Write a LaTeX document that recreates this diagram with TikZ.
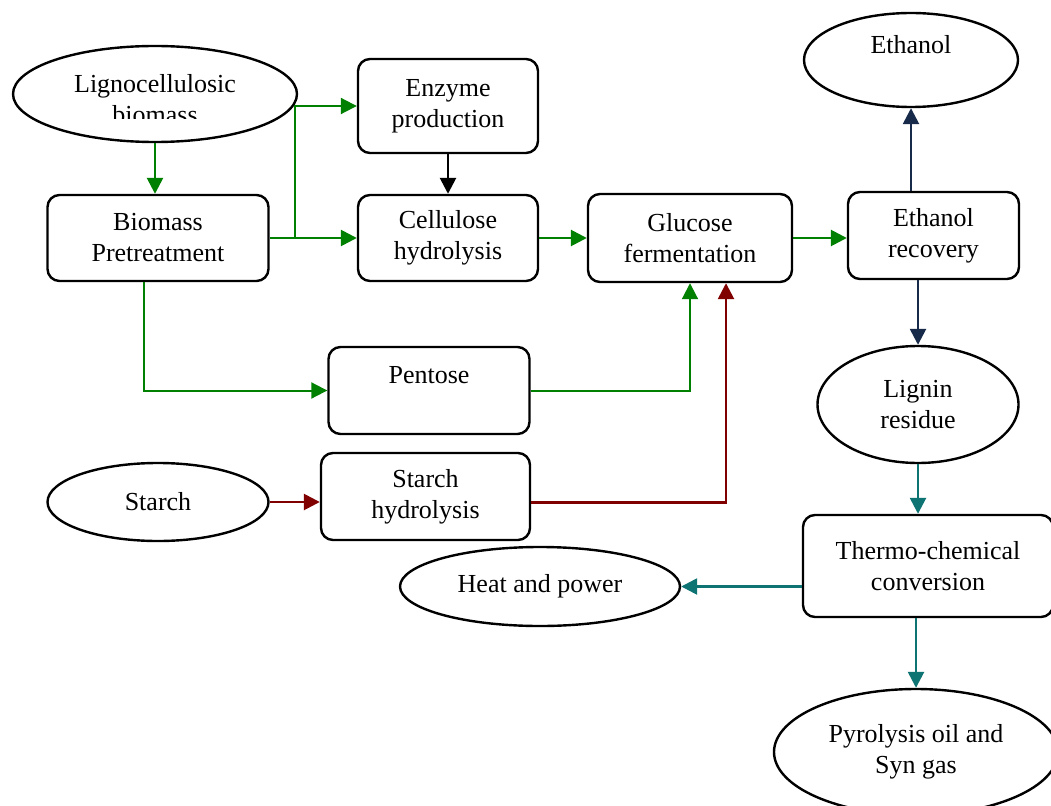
\documentclass[tikz,border=0pt]{standalone}
\usepackage{fontspec}
\setmainfont{Liberation Serif}
\usetikzlibrary{shapes.geometric,arrows.meta}

\definecolor{flowgreen}{HTML}{008000}
\definecolor{flowred}{HTML}{800000}
\definecolor{flownavy}{HTML}{172A4A}
\definecolor{flowteal}{HTML}{0E7373}

\tikzset{
  label font/.style={font=\fontsize{26pt}{31pt}\selectfont},
  process/.style={draw, rounded corners=12pt, line width=2.4pt, align=center, inner sep=0pt, label font},
  product/.style={draw, ellipse, line width=2.4pt, align=center, inner sep=0pt, label font},
  flow/.style={line width=2.6pt, -{Triangle[length=16pt,width=16pt]}},
  thinflow/.style={flow, line width=2pt},
}

\begin{document}
\begin{tikzpicture}[x=1pt, y=-1pt]
  \useasboundingbox (0,0) rectangle (1051,805);

  % Feedstocks and products
  \node[product, minimum width=284pt, minimum height=96pt] (ligno) at (155,94) {};
  \begin{scope}
    % second line is cut off by the text frame
    \clip (0,40) rectangle (300,119);
    \node[align=center, label font] (lignotext) at (155,99) {Lignocellulosic\\biomass};
  \end{scope}
  \node[product, minimum width=214pt, minimum height=94pt] (ethanol) at (911,60) {Ethanol\\\mbox{}};
  \node[product, minimum width=221pt, minimum height=78pt] (starch) at (158,502) {Starch};
  \node[product, minimum width=201pt, minimum height=117pt] (lignin) at (918,404.5) {Lignin\\residue};
  \node[product, minimum width=280pt, minimum height=79pt] (heat) at (540,586.5) {Heat and power};
  \node[product, minimum width=284pt, minimum height=126pt] (pyro) at (916,752) {Pyrolysis oil and\\Syn gas};

  % Process steps
  \node[process, minimum width=221pt, minimum height=86pt] (pretreat) at (158,238) {Biomass\\Pretreatment};
  \node[process, minimum width=180pt, minimum height=94pt] (enzyme) at (448,106) {Enzyme\\production};
  \node[process, minimum width=180pt, minimum height=86pt] (cellulose) at (448,238) {Cellulose\\hydrolysis};
  \node[process, minimum width=204pt, minimum height=88pt] (glucose) at (690,238) {Glucose\\fermentation};
  \node[process, minimum width=171pt, minimum height=87pt] (recovery) at (933.5,235.5) {Ethanol\\recovery};
  \node[process, minimum width=201pt, minimum height=87pt] (pentose) at (429,390.5) {Pentose\\\mbox{}};
  \node[process, minimum width=209pt, minimum height=87pt] (starchhyd) at (425.5,496.5) {Starch\\hydrolysis};
  \node[process, minimum width=250pt, minimum height=102pt] (thermo) at (928,566) {Thermo-chemical\\conversion};

  % Sugar route
  \coordinate (split) at (295,238);
  \draw[flow, flowgreen] (ligno.south) -- (ligno.south |- pretreat.north);
  \draw[flow, flowgreen] (pretreat.east) -- (cellulose.west);
  \draw[thinflow, flowgreen] (split) |- (enzyme.west);
  \draw[flow] (enzyme) -- (cellulose);
  \draw[flow, flowgreen] (cellulose) -- (glucose);
  \draw[flow, flowgreen] (glucose.east) -- (glucose.east -| recovery.west);
  \draw[thinflow, flowgreen] ([xshift=-14pt]pretreat.south) |- (pentose.west);
  \draw[thinflow, flowgreen] (pentose.east) -| (glucose.south);

  % Starch route
  \draw[flow, flowred] (starch.east) -- (starch.east -| starchhyd.west);
  \draw[flow, flowred] ([yshift=-6pt]starchhyd.east) -| ([xshift=36pt]glucose.south);

  % Recovery and residue
  \draw[flow, flownavy] (ethanol.south |- recovery.north) -- (ethanol.south);
  \draw[flow, flownavy] (lignin.north |- recovery.south) -- (lignin.north);
  \draw[flow, flowteal] (lignin.south) -- (lignin.south |- thermo.north);
  \draw[flow, flowteal] (thermo.west |- heat.east) -- (heat.east);
  \draw[flow, flowteal] (pyro.north |- thermo.south) -- (pyro.north);
\end{tikzpicture}
\end{document}
